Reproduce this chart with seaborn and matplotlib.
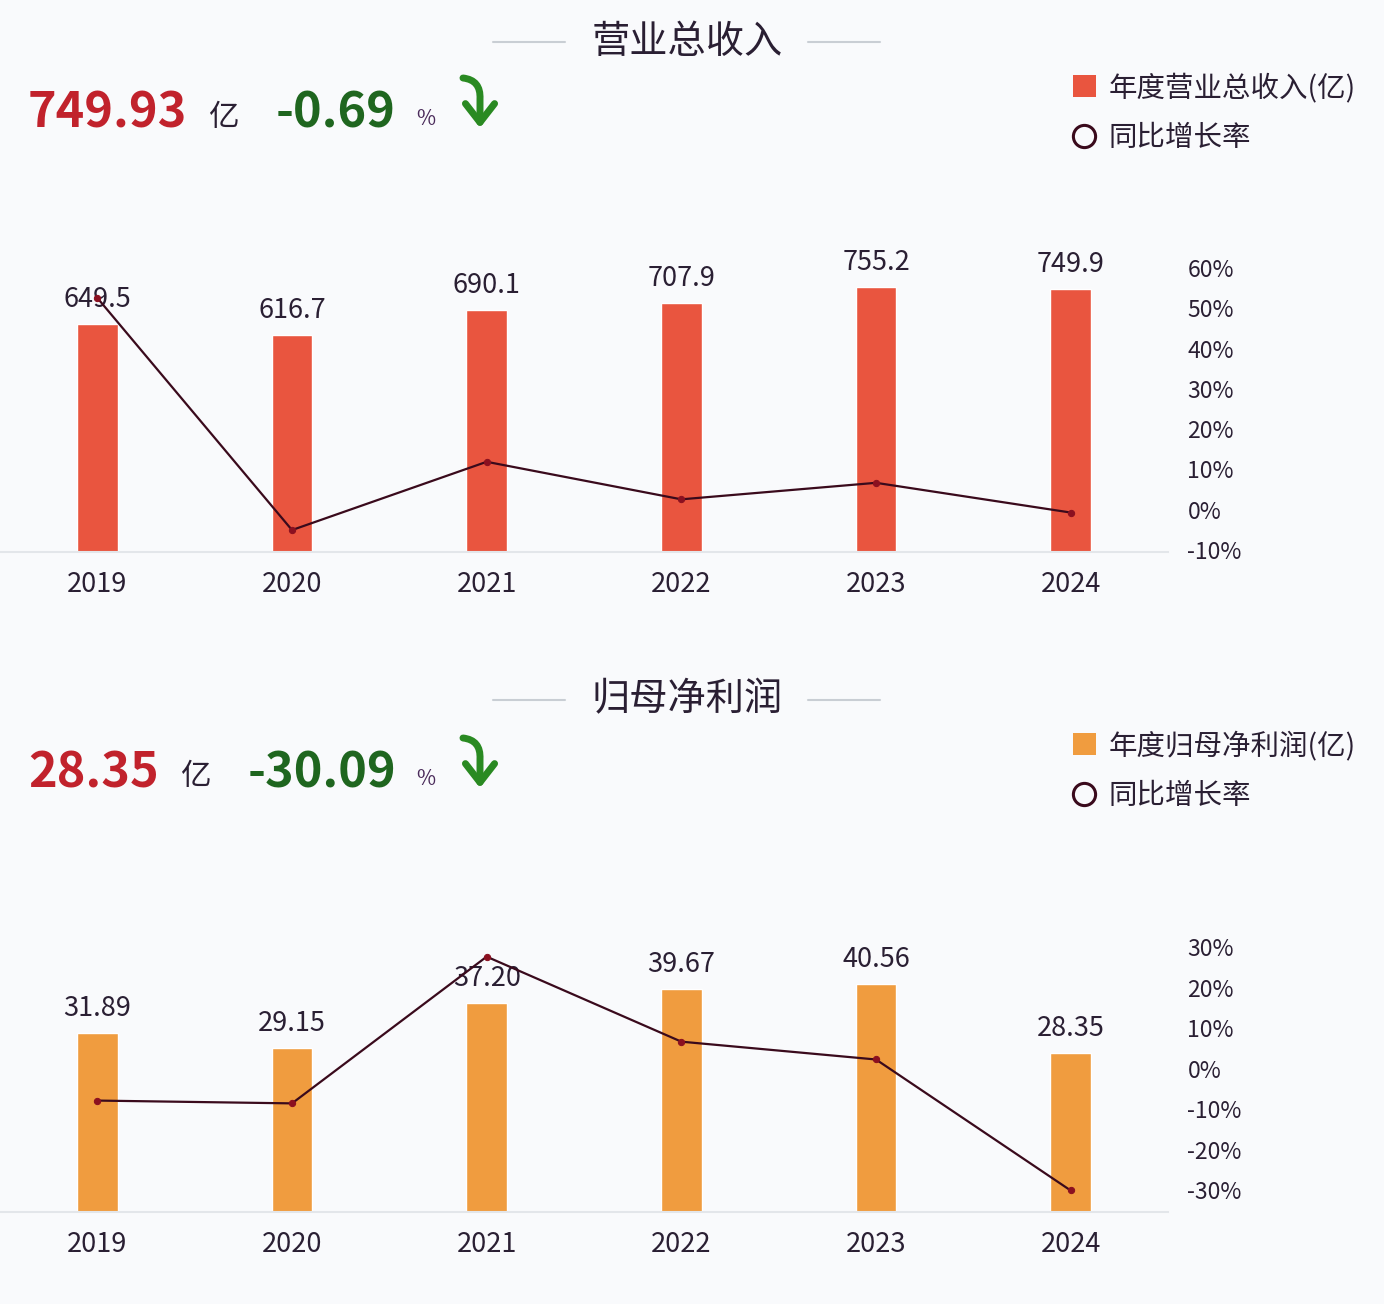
import numpy as np
import matplotlib
matplotlib.use("Agg")
import matplotlib.pyplot as plt
import seaborn as sns
from matplotlib.patches import Patch, FancyArrowPatch, ArrowStyle
from matplotlib.lines import Line2D
from matplotlib.path import Path

# ---- data ----
years = ["2019", "2020", "2021", "2022", "2023", "2024"]
revenue = [649.5, 616.7, 690.1, 707.9, 755.2, 749.9]
revenue_yoy = [52.6, -5.05, 11.9, 2.58, 6.68, -0.70]
profit = [31.89, 29.15, 37.20, 39.67, 40.56, 28.35]
profit_yoy = [-7.9, -8.59, 27.62, 6.64, 2.24, -30.09]

rev_ticks = [-10, 0, 10, 20, 30, 40, 50, 60]
prof_ticks = [-30, -20, -10, 0, 10, 20, 30]

# ---- style ----
sns.set_theme(style="white")
plt.rcParams["font.family"] = ["Noto Sans CJK SC", "DejaVu Sans"]

W, H = 1384, 1304
BG = "#F9FAFC"
TXT = "#2A1F33"
RED_BAR = "#E9553F"
ORANGE_BAR = "#F09C3F"
LINE = "#3A0A1C"
DOT = "#8B1020"


def fx(x):
    return x / W


def fy(y):
    return 1 - y / H


fig = plt.figure(figsize=(W / 100, H / 100), dpi=100, facecolor=BG)


def panel(top, base, bars, yoy, ymax, ylim2, ticks, bar_color, fmt):
    ax = fig.add_axes([0, fy(base), fx(1168), (base - top) / H])
    ax.set_facecolor("none")
    sns.barplot(x=years, y=bars, color=bar_color, width=0.21, saturation=1,
                ax=ax, zorder=2)
    ax.bar_label(ax.containers[0], fmt=fmt, padding=8, fontsize=19.5, color=TXT)
    ax.set_xlim(-0.5, 5.5)
    ax.set_ylim(0, ymax)
    ax.set_yticks([])
    ax.set_xlabel("")
    ax.set_ylabel("")
    for s in ["top", "left", "right"]:
        ax.spines[s].set_visible(False)
    ax.spines["bottom"].set_color("#E3E6EA")
    ax.spines["bottom"].set_linewidth(1.5)
    ax.tick_params(axis="x", length=0, pad=14, labelsize=19.5, labelcolor=TXT)

    ax2 = ax.twinx()
    sns.lineplot(x=np.arange(len(years)), y=yoy, ax=ax2, color=LINE, lw=1.6,
                 marker="o", markersize=4.5, markerfacecolor=DOT,
                 markeredgecolor=DOT, zorder=3)
    ax2.set_ylim(*ylim2)
    ax2.set_yticks(ticks)
    ax2.set_yticklabels([f"{t}%" for t in ticks])
    ax2.tick_params(axis="y", length=0, pad=14, labelsize=16.5, labelcolor=TXT)
    for s in ax2.spines.values():
        s.set_visible(False)
    ax2.set_xlim(-0.5, 5.5)
    return ax, ax2


panel(250, 552, revenue, revenue_yoy, 860, (-10.5, 64.5), rev_ticks, RED_BAR, "%.1f")
panel(930, 1212, profit, profit_yoy, 50.2, (-35.4, 34.2), prof_ticks, ORANGE_BAR, "%.2f")


def header(y_title, y_num, title, value, unit_x, change, legend_label, bar_color):
    fig.text(fx(687), fy(y_title), title, fontsize=27.5, color=TXT,
             ha="center", va="center")
    for x0, x1 in [(493, 565), (808, 880)]:
        fig.add_artist(Line2D([fx(x0), fx(x1)], [fy(y_title), fy(y_title)],
                              color="#C9CED4", lw=1.5, transform=fig.transFigure))
    fig.text(fx(28), fy(y_num), value, fontsize=35, fontweight="bold",
             color="#C1222C", ha="left", va="center")
    fig.text(fx(unit_x), fy(y_num + 4), "亿", fontsize=22, color=TXT,
             ha="left", va="center")
    fig.text(fx(396), fy(y_num), change, fontsize=35, fontweight="bold",
             color="#1F661F", ha="right", va="center")
    fig.text(fx(416), fy(y_num + 6), "%", fontsize=15, color="#4A2A5A",
             ha="left", va="center")
    # curved down arrow
    pts = [(463, y_num - 35), (481, y_num - 33), (480, y_num - 14), (480, y_num + 15)]
    path = Path([(fx(a), fy(b)) for a, b in pts],
                [Path.MOVETO, Path.CURVE3, Path.CURVE3, Path.LINETO])
    arr = FancyArrowPatch(path=path, transform=fig.transFigure,
                          arrowstyle=ArrowStyle("->", head_length=0.45, head_width=0.35),
                          mutation_scale=30, lw=5, color="#2A8A22",
                          capstyle="round", joinstyle="round")
    fig.add_artist(arr)

    handles = [Patch(facecolor=bar_color, edgecolor="none", label=legend_label),
               Line2D([], [], marker="o", ls="none", mfc="none", mec=LINE,
                      mew=2.2, ms=16, label="同比增长率")]
    fig.legend(handles=handles, loc="upper left",
               bbox_to_anchor=(fx(1073), fy(y_title + 31)), frameon=False,
               fontsize=20.5, handlelength=0.8, handleheight=0.8,
               handletextpad=0.45, labelspacing=0.72, borderpad=0,
               borderaxespad=0, labelcolor=TXT)


header(42, 113, "营业总收入", "749.93", 208, "-0.69", "年度营业总收入(亿)", RED_BAR)
header(700, 773, "归母净利润", "28.35", 180, "-30.09", "年度归母净利润(亿)", ORANGE_BAR)

fig.savefig("out.png", dpi=100, facecolor=BG)
